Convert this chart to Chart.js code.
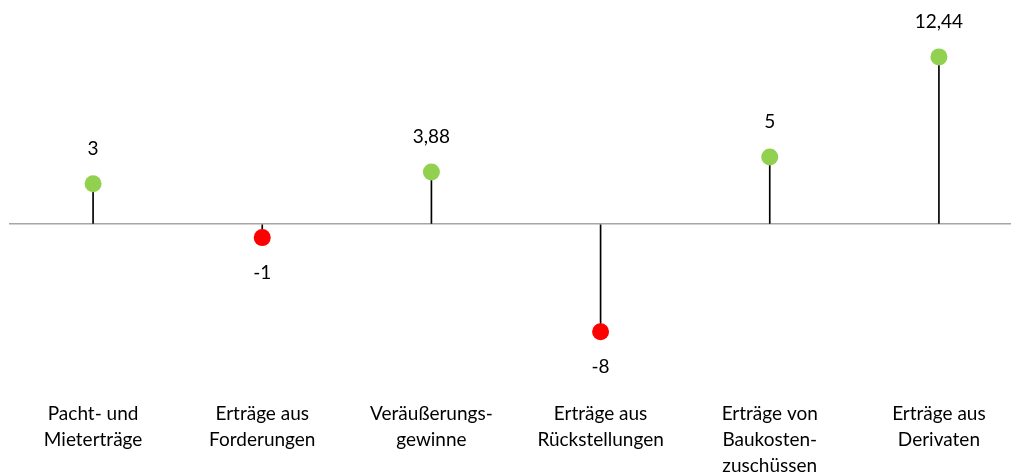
<!DOCTYPE html>
<html>
<head>
<meta charset="utf-8">
<script src="https://cdn.jsdelivr.net/npm/chart.js@4"></script>
<style>
  html, body { margin: 0; padding: 0; background: #fff; overflow: hidden; }
  #wrap { width: 1032px; height: 475px; }
</style>
</head>
<body>
<div id="wrap"><canvas id="c"></canvas></div>
<script>
let categories = [
  ["Pacht- und", "Mieterträge"],
  ["Erträge aus", "Forderungen"],
  ["Veräußerungs-", "gewinne"],
  ["Erträge aus", "Rückstellungen"],
  ["Erträge von", "Baukosten-", "zuschüssen"],
  ["Erträge aus", "Derivaten"]
];
let values = [3, -1, 3.88, -8, 5, 12.44];

let green = '#92d050';
let red = '#ff0000';
let pointColors = values.map(v => v >= 0 ? green : red);

let fontFamily = "Lato, 'Open Sans', sans-serif";

// value labels above / below each marker
let valueLabels = {
  id: 'valueLabels',
  afterDatasetsDraw(chart) {
    let ctx = chart.ctx;
    let meta = chart.getDatasetMeta(1);
    ctx.save();
    ctx.font = '19px ' + fontFamily;
    ctx.fillStyle = '#000';
    ctx.textAlign = 'center';
    ctx.textBaseline = 'middle';
    meta.data.forEach((pt, i) => {
      let v = values[i];
      let txt = String(v).replace('.', ',');
      let y = v >= 0 ? pt.y - 35 : pt.y + 35;
      ctx.fillText(txt, pt.x, y);
    });
    ctx.restore();
  }
};

let ctx = document.getElementById('c').getContext('2d');
let myChart = new Chart(ctx, {
  data: {
    labels: categories,
    datasets: [{
      type: 'bar',
      data: values,
      backgroundColor: '#000',
      barThickness: 1,
      order: 2
    }, {
      type: 'line',
      data: values,
      showLine: false,
      pointRadius: 8.5,
      pointHoverRadius: 8.5,
      pointBackgroundColor: pointColors,
      pointBorderWidth: 0,
      order: 1
    }]
  },
  options: {
    responsive: true,
    maintainAspectRatio: false,
    animation: false,
    layout: { padding: { top: 9, left: 8, right: 0, bottom: 0 } },
    plugins: {
      legend: { display: false },
      tooltip: { enabled: false }
    },
    scales: {
      x: {
        offset: true,
        grid: { display: false, drawTicks: false },
        border: { display: false },
        ticks: {
          color: '#000',
          padding: 2,
          maxRotation: 0,
          autoSkip: false,
          font: { family: fontFamily, size: 19, lineHeight: 26 / 19 }
        },
        afterFit(s) { s.height = 76; }
      },
      y: {
        min: -13,
        max: 16,
        ticks: { display: false, stepSize: 1 },
        border: { display: false },
        grid: {
          drawTicks: false,
          lineWidth: 1.5,
          color: c => c.tick && c.tick.value === 0 ? '#a6a6a6' : 'rgba(0,0,0,0)'
        },
        afterFit(s) { s.width = 0; }
      }
    }
  },
  plugins: [valueLabels]
});
</script>
</body>
</html>
